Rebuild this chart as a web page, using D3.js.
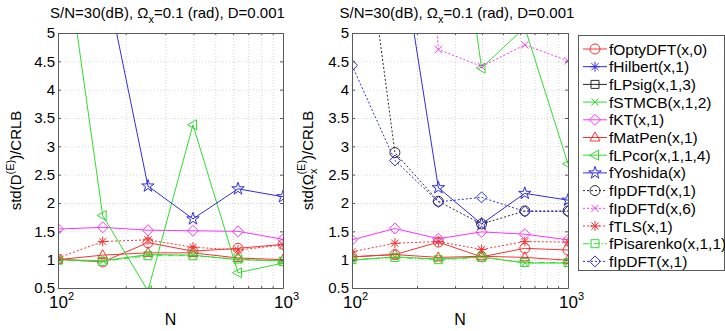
<!DOCTYPE html>
<html>
<head>
<meta charset="utf-8">
<script src="https://cdn.jsdelivr.net/npm/d3@7"></script>
<style>
body { margin: 0; background: #fff; }
text { font-family: "Liberation Sans", Arial, sans-serif; fill: #000; }
</style>
</head>
<body>
<div id="chart"></div>
<script>
var N = [100, 158, 251, 398, 631, 1000];

var methods = ["fOptyDFT(x,0)", "fHilbert(x,1)", "fLPsig(x,1,3)", "fSTMCB(x,1,2)", "fKT(x,1)",
  "fMatPen(x,1)", "fLPcor(x,1,1,4)", "fYoshida(x)", "fIpDFTd(x,1)", "fIpDFTd(x,6)",
  "fTLS(x,1)", "fPisarenko(x,1,1)", "fIpDFT(x,1)"];
var colors = ["#f83232", "#2e2ee0", "#2a2a2a", "#30dc30", "#f836f8", "#f83232", "#30dc30",
  "#2e2ee0", "#2a2a2a", "#f836f8", "#f83232", "#30dc30", "#2e2ee0"];
var markers = ["o", "*", "s", "x", "d", "^", "<", "p", "o", "x", "*", "s", "d"];
var dashes = ["", "", "", "", "", "", "", "", "2,2", "2,2", "2,2", "6,2,1,2", "2,2"];

// std(D)/CRLB, left panel (null = not drawn)
var stdD = [
  [1.01, 0.96, 1.30, 1.15, 1.20, 1.27],
  null,
  null,
  [1.00, 0.98, 1.09, 1.08, 1.00, 0.98],
  [1.54, 1.57, 1.52, 1.51, 1.50, 1.36],
  [1.00, 1.08, 1.12, 1.12, 1.03, 1.00],
  [7.4, 1.78, 0.45, 3.38, 0.77, 0.94],
  [9.0, 6.2, 2.30, 1.72, 2.25, 2.11],
  null,
  null,
  [1.03, 1.32, 1.35, 1.22, 1.17, 1.26],
  [0.99, 0.97, 1.07, 1.07, 1.01, 0.97],
  null
];

// std(Omega)/CRLB, right panel
var stdOmega = [
  [1.05, 1.09, 1.31, 1.05, 1.20, 1.17],
  null,
  null,
  [0.99, 1.05, 1.01, 1.05, 0.94, 0.94],
  [1.35, 1.55, 1.37, 1.49, 1.45, 1.35],
  [1.05, 1.09, 1.04, 1.06, 1.04, 0.99],
  [12.0, 11.0, 9.85, 4.38, 5.10, 2.69],
  [10.0, 7.15, 2.27, 1.63, 2.17, 2.05],
  [8.6, 2.89, 2.03, 1.63, 1.86, 1.86],
  [20.0, 17.0, 4.71, 4.41, 4.79, 4.51],
  [1.14, 1.29, 1.32, 1.18, 1.32, 1.31],
  [1.00, 1.04, 1.00, 1.04, 0.95, 0.95],
  [4.43, 2.75, 2.02, 2.10, 1.85, 1.85]
];

var yTicks = [0.5, 1, 1.5, 2, 2.5, 3, 3.5, 4, 4.5, 5];
var xTicks = [100, 1000];
var xMinor = [200, 300, 400, 500, 600, 700, 800, 900];
var xTickLabels = [["10", "2"], ["10", "3"]];

var w = 725, h = 331;
var plotTop = 33, plotBottom = 288;
var axisColor = "#5a5a5a";

var svg = d3.select("#chart").append("svg")
  .attr("width", w)
  .attr("height", h);

function markerPath(type) {
  var r = 5;
  if (type == "o") return d3.symbol(d3.symbolCircle, Math.PI * r * r)();
  if (type == "s") return "M-4,-4L4,-4L4,4L-4,4Z";
  if (type == "d") return "M0,-5.5L5.5,0L0,5.5L-5.5,0Z";
  if (type == "^") return "M0,-5.5L5,3.5L-5,3.5Z";
  if (type == "<") return "M-5.5,0L3.5,-5L3.5,5Z";
  if (type == "p") return d3.symbol(d3.symbolStar, 48)();
  if (type == "x") return "M-3.6,-3.6L3.6,3.6M-3.6,3.6L3.6,-3.6";
  if (type == "*") return "M-5,0L5,0M0,-5L0,5M-3.6,-3.6L3.6,3.6M-3.6,3.6L3.6,-3.6";
}

function styleAxis(g) {
  g.selectAll(".domain").attr("stroke", axisColor);
  g.selectAll(".tick line").attr("stroke", axisColor);
  g.selectAll(".tick text").style("font-size", "15px").attr("fill", "#000")
    .style("font-family", "'Liberation Sans', Arial, sans-serif");
}

function drawPanel(id, left, right, values) {
  var xscale = d3.scaleLog().domain([100, 1000]).range([left, right]);
  var yscale = d3.scaleLinear().domain([0.5, 5]).range([plotBottom, plotTop]);
  var g = svg.append("g").attr("id", id);

  g.append("clipPath").attr("id", id + "-clip")
    .append("rect")
    .attr("x", left).attr("y", plotTop)
    .attr("width", right - left).attr("height", plotBottom - plotTop);

  // grid
  var gridX = g.append("g")
    .attr("transform", "translate(0," + plotBottom + ")")
    .call(d3.axisBottom(xscale).tickValues(xMinor).tickSize(-(plotBottom - plotTop)).tickFormat(""));
  var gridY = g.append("g")
    .attr("transform", "translate(" + left + ",0)")
    .call(d3.axisLeft(yscale).tickValues(yTicks).tickSize(-(right - left)).tickFormat(""));
  [gridX, gridY].forEach(function(a) {
    a.select(".domain").remove();
    a.selectAll(".tick line").attr("stroke", "#d6d6d6").attr("stroke-dasharray", "1,2");
  });

  // series
  var plot = g.append("g").attr("clip-path", "url(#" + id + "-clip)");
  var line = d3.line()
    .x(function(d, i) { return xscale(N[i]); })
    .y(function(d) { return yscale(d); });

  values.forEach(function(vals, k) {
    if (!vals) return;
    plot.append("path")
      .attr("d", line(vals))
      .attr("fill", "none")
      .attr("stroke", colors[k])
      .attr("stroke-width", 1)
      .attr("stroke-dasharray", dashes[k]);
    plot.selectAll(".m" + k)
      .data(vals)
      .enter().append("path")
      .attr("class", "m" + k)
      .attr("d", markerPath(markers[k]))
      .attr("transform", function(d, i) { return "translate(" + xscale(N[i]) + "," + yscale(d) + ")"; })
      .attr("fill", "none")
      .attr("stroke", colors[k])
      .attr("stroke-width", 1);
  });

  // axes (ticks inside)
  var yaxis = g.append("g")
    .attr("transform", "translate(" + left + ",0)")
    .call(d3.axisLeft(yscale).tickValues(yTicks).tickSize(-3).tickSizeOuter(0).tickPadding(3).tickFormat(d3.format("")));
  var yaxisR = g.append("g")
    .attr("transform", "translate(" + right + ",0)")
    .call(d3.axisRight(yscale).tickValues(yTicks).tickSize(-3).tickSizeOuter(0).tickFormat(""));
  var xaxis = g.append("g")
    .attr("transform", "translate(0," + plotBottom + ")")
    .call(d3.axisBottom(xscale).tickValues(xTicks).tickSize(-3).tickSizeOuter(0).tickFormat(""));
  var xaxisMinor = g.append("g")
    .attr("transform", "translate(0," + plotBottom + ")")
    .call(d3.axisBottom(xscale).tickValues(xMinor).tickSize(-2).tickSizeOuter(0).tickFormat(""));
  var xaxisT = g.append("g")
    .attr("transform", "translate(0," + plotTop + ")")
    .call(d3.axisTop(xscale).tickValues(xTicks).tickSize(-3).tickSizeOuter(0).tickFormat(""));
  var xaxisTMinor = g.append("g")
    .attr("transform", "translate(0," + plotTop + ")")
    .call(d3.axisTop(xscale).tickValues(xMinor).tickSize(-2).tickSizeOuter(0).tickFormat(""));
  [yaxis, yaxisR, xaxis, xaxisMinor, xaxisT, xaxisTMinor].forEach(styleAxis);
  xaxisMinor.select(".domain").remove();
  xaxisTMinor.select(".domain").remove();

  // x tick labels 10^2, 10^3
  xTicks.forEach(function(t, i) {
    var lbl = g.append("text")
      .attr("x", xscale(t) - 9)
      .attr("y", 308)
      .style("font-size", "17px");
    lbl.append("tspan").text(xTickLabels[i][0]);
    lbl.append("tspan").attr("dy", -8).style("font-size", "11px").text(xTickLabels[i][1]);
  });

  g.append("text")
    .attr("x", (left + right) / 2)
    .attr("y", 325)
    .attr("text-anchor", "middle")
    .style("font-size", "16px")
    .text("N");

  // title
  var title = g.append("text")
    .attr("x", (left + right) / 2 - 3)
    .attr("y", 18)
    .attr("text-anchor", "middle")
    .style("font-size", "15px");
  title.append("tspan").text("S/N=30(dB), \u03A9");
  title.append("tspan").attr("dy", 5).style("font-size", "11px").text("x");
  title.append("tspan").attr("dy", -5).text("=0.1 (rad), D=0.001");

  return g;
}

var gLeft = drawPanel("left", 58, 283, stdD);
var gRight = drawPanel("right", 352, 568, stdOmega);

// y labels
var yl = gLeft.append("text")
  .attr("transform", "translate(21," + (plotTop + plotBottom) / 2 + ") rotate(-90)")
  .attr("text-anchor", "middle")
  .style("font-size", "15px");
yl.append("tspan").text("std(D");
yl.append("tspan").attr("dy", -7).style("font-size", "11px").text("(E)");
yl.append("tspan").attr("dy", 7).text(")/CRLB");

var yr = gRight.append("text")
  .attr("transform", "translate(313," + (plotTop + plotBottom) / 2 + ") rotate(-90)")
  .attr("text-anchor", "middle")
  .style("font-size", "15px");
yr.append("tspan").text("std(\u03A9");
yr.append("tspan").attr("dy", 4).style("font-size", "11px").text("x");
yr.append("tspan").attr("dx", -6).attr("dy", -12).style("font-size", "11px").text("(E)");
yr.append("tspan").attr("dy", 8).text(")/CRLB");

// legend
var legend = svg.append("g").attr("transform", "translate(578,35)");
legend.append("rect")
  .attr("x", 0.5).attr("y", 0.5)
  .attr("width", 146).attr("height", 235)
  .attr("fill", "#fff")
  .attr("stroke", axisColor);

var rowY = d3.scaleLinear().domain([0, methods.length - 1]).range([14, 226.4]);

methods.forEach(function(name, k) {
  var row = legend.append("g").attr("transform", "translate(0," + rowY(k) + ")");
  row.append("line")
    .attr("x1", 5).attr("x2", 29)
    .attr("stroke", colors[k])
    .attr("stroke-dasharray", dashes[k]);
  row.append("path")
    .attr("d", markerPath(markers[k]))
    .attr("transform", "translate(17,0)")
    .attr("fill", "none")
    .attr("stroke", colors[k]);
  row.append("text")
    .attr("x", 31)
    .attr("y", 5.5)
    .style("font-size", "15.5px")
    .text(name);
});
</script>
</body>
</html>
